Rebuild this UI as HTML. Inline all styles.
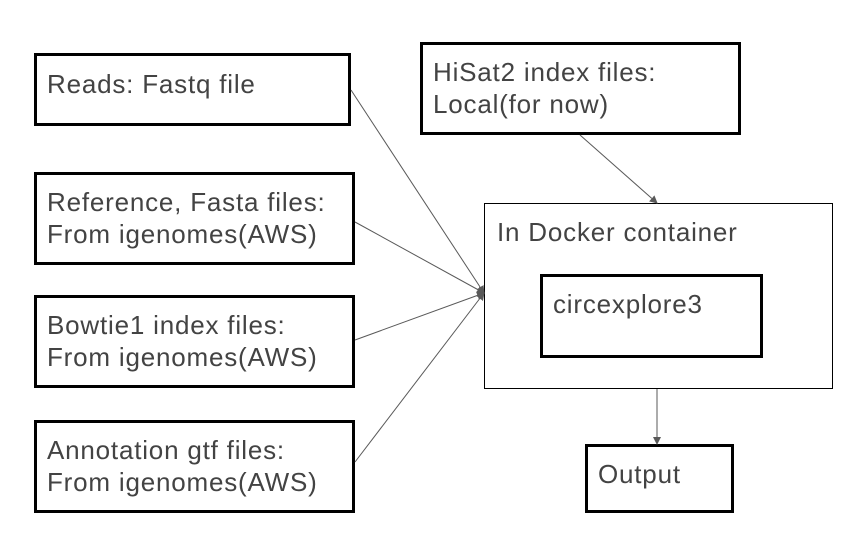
<!DOCTYPE html>
<html><head><style>
body{margin:0;width:862px;height:538px;background:#fff;overflow:hidden;position:relative;font-family:"Liberation Sans",Arial,sans-serif;}
.b{position:absolute;box-sizing:border-box;border:3px solid #000;color:#434343;font-size:26px;letter-spacing:0.8px;line-height:32px;padding:10px 0 0 10px;white-space:nowrap;}
</style></head><body>
<div class="b" style="left:34px;top:53px;width:317px;height:73px;padding-top:12px">Reads: Fastq file</div>
<div class="b" style="left:34px;top:172px;width:321px;height:93px;padding-top:11px">Reference, Fasta files:<br>From igenomes(AWS)</div>
<div class="b" style="left:34px;top:295px;width:321px;height:93px;padding-top:11px">Bowtie1 index files:<br>From igenomes(AWS)</div>
<div class="b" style="left:34px;top:420px;width:321px;height:93px;padding-top:11px">Annotation gtf files:<br>From igenomes(AWS)</div>
<div class="b" style="left:420px;top:42px;width:321px;height:93px;padding-top:11px">HiSat2 index files:<br>Local(for now)</div>
<div class="b" style="left:484px;top:203px;width:349px;height:186px;border-width:1.5px;padding-top:12px;padding-left:12px">In Docker container</div>
<div class="b" style="left:540px;top:274px;width:223px;height:84px;padding-top:11px">circexplore3</div>
<div class="b" style="left:585px;top:444px;width:149px;height:69px;padding-top:11px">Output</div>
<svg width="862" height="538" style="position:absolute;left:0;top:0">
<defs><marker id="a" markerWidth="8" markerHeight="8" refX="7" refY="4" orient="auto" markerUnits="userSpaceOnUse"><path d="M0,0L8,4L0,8z" fill="#595959"/></marker></defs>
<g stroke="#595959" stroke-width="1" fill="none" marker-end="url(#a)">
<line x1="351" y1="90" x2="484" y2="293"/>
<line x1="355" y1="222" x2="484" y2="293"/>
<line x1="355" y1="340" x2="484" y2="293"/>
<line x1="355" y1="462" x2="484" y2="293"/>
<line x1="580" y1="135" x2="657" y2="203"/>
<line x1="657" y1="389" x2="657" y2="444"/>
</g></svg>
</body></html>
